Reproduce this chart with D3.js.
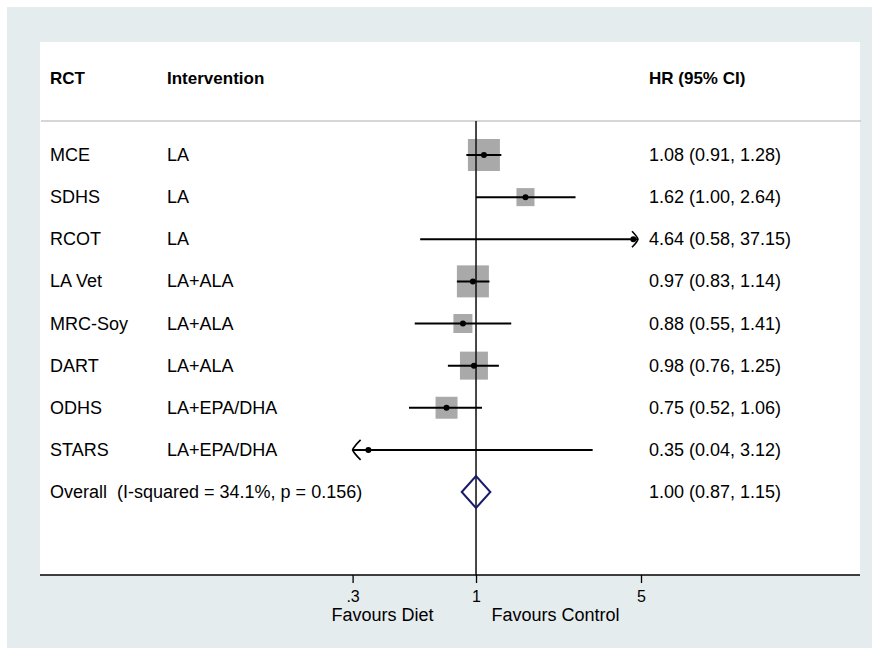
<!DOCTYPE html>
<html>
<head>
<meta charset="utf-8">
<script src="https://cdn.jsdelivr.net/npm/d3@7"></script>
<style>
  body { margin: 0; background: #fff; }
  svg text { font-family: "Liberation Sans", Arial, Helvetica, sans-serif; fill: #000; white-space: pre; }
</style>
</head>
<body>
<svg id="chart" width="872" height="648"></svg>
<script>
// trial data
const trials = ['MCE', 'SDHS', 'RCOT', 'LA Vet', 'MRC-Soy', 'DART', 'ODHS', 'STARS'];
const interventions = ['LA', 'LA', 'LA', 'LA+ALA', 'LA+ALA', 'LA+ALA', 'LA+EPA/DHA', 'LA+EPA/DHA'];
const hr = [1.08, 1.62, 4.64, 0.97, 0.88, 0.98, 0.75, 0.35];
const lower = [0.91, 1.00, 0.58, 0.83, 0.55, 0.76, 0.52, 0.04];
const upper = [1.28, 2.64, 37.15, 1.14, 1.41, 1.25, 1.06, 3.12];
const weights = [25.5, 8.1, 0.3, 25.5, 9.0, 19.5, 12.0, 0.3]; // % weight

const overall = { label: 'Overall  (I-squared = 34.1%, p = 0.156)', hr: 1.00, lower: 0.87, upper: 1.15 };

const tickValues = [0.3, 1, 5];
const tickLabels = ['.3', '1', '5'];

const W = 872, H = 648;
const plot = { left: 40, right: 860, top: 42, bottom: 575 };
const sepY = 121;
const colRCT = 50, colInt = 167, colHR = 649;

const svg = d3.select('#chart');

// background
svg.append('rect').attr('x', 7).attr('y', 7).attr('width', W - 7).attr('height', H - 7)
  .attr('fill', '#e4ecee');
svg.append('rect').attr('x', plot.left).attr('y', plot.top)
  .attr('width', plot.right - plot.left).attr('height', plot.bottom - plot.top)
  .attr('fill', '#fff');

// scales
const x = d3.scaleLog().domain([0.3, 5]).range([352.6, 641]);
const y = d3.scaleLinear().domain([0, 8]).range([155, 492]);
const side = d3.scaleSqrt().domain([0, 25.5]).range([0, 32]);

const rows = trials.map((t, i) => ({
  trial: t, intv: interventions[i], hr: hr[i], lo: lower[i], hi: upper[i], w: weights[i], i
}));

const fmt = d3.format('.2f');

// header
const header = svg.append('g').attr('font-weight', 'bold').attr('font-size', 17);
header.append('text').attr('x', colRCT).attr('y', 84).text('RCT');
header.append('text').attr('x', colInt).attr('y', 84).text('Intervention');
header.append('text').attr('x', colHR).attr('y', 84).text('HR (95% CI)');

// separator under header
svg.append('line').attr('x1', plot.left + 1).attr('x2', plot.right + 1)
  .attr('y1', sepY).attr('y2', sepY)
  .attr('stroke', '#c8c8c8').attr('stroke-width', 1.5);

// weight boxes
svg.append('g').selectAll('rect').data(rows).join('rect')
  .attr('x', d => x(d.hr) - side(d.w) / 2)
  .attr('y', d => y(d.i) - side(d.w) / 2)
  .attr('width', d => side(d.w))
  .attr('height', d => side(d.w))
  .attr('fill', '#a9a9a9');

// null line at 1
svg.append('line').attr('x1', x(1)).attr('x2', x(1))
  .attr('y1', sepY).attr('y2', plot.bottom)
  .attr('stroke', '#1a1a1a').attr('stroke-width', 1.6);

// CI lines (clipped to axis range)
const [dmin, dmax] = x.domain();
const ci = svg.append('g');
ci.selectAll('line').data(rows).join('line')
  .attr('x1', d => x(Math.max(d.lo, dmin)))
  .attr('x2', d => x(Math.min(d.hi, dmax)) - (d.hi > dmax ? 3 : 0))
  .attr('y1', d => y(d.i)).attr('y2', d => y(d.i))
  .attr('stroke', '#000').attr('stroke-width', 2);

// arrows where CI runs off the scale
rows.filter(d => d.hi > dmax).forEach(d => {
  const tx = x(dmax) - 3, ty = y(d.i);
  ci.append('path')
    .attr('d', `M${tx - 6},${ty - 8} Q${tx - 1},${ty - 3} ${tx},${ty} Q${tx - 1},${ty + 3} ${tx - 6},${ty + 8}`)
    .attr('fill', 'none').attr('stroke', '#000').attr('stroke-width', 1.6);
});
rows.filter(d => d.lo < dmin).forEach(d => {
  const tx = x(dmin), ty = y(d.i);
  ci.append('path')
    .attr('d', `M${tx + 8},${ty - 10} Q${tx + 1},${ty - 3} ${tx},${ty} Q${tx + 1},${ty + 3} ${tx + 8},${ty + 10}`)
    .attr('fill', 'none').attr('stroke', '#000').attr('stroke-width', 1.6);
});

// point estimates
svg.append('g').selectAll('circle').data(rows).join('circle')
  .attr('cx', d => x(d.hr)).attr('cy', d => y(d.i)).attr('r', 3)
  .attr('fill', '#000');

// overall diamond
const oy = y(8);
svg.append('path')
  .attr('d', `M${x(overall.lower)},${oy} L${x(overall.hr)},${oy - 16} L${x(overall.upper)},${oy} L${x(overall.hr)},${oy + 16} Z`)
  .attr('fill', 'none').attr('stroke', '#1b1b6b').attr('stroke-width', 2);

// row text
const txt = svg.append('g').attr('font-size', 18);
rows.forEach(d => {
  txt.append('text').attr('x', colRCT).attr('y', y(d.i) + 6).text(d.trial);
  txt.append('text').attr('x', colInt).attr('y', y(d.i) + 6).text(d.intv);
  txt.append('text').attr('x', colHR).attr('y', y(d.i) + 6)
    .text(`${fmt(d.hr)} (${fmt(d.lo)}, ${fmt(d.hi)})`);
});
txt.append('text').attr('x', colRCT).attr('y', oy + 6).text(overall.label);
txt.append('text').attr('x', colHR).attr('y', oy + 6)
  .text(`${fmt(overall.hr)} (${fmt(overall.lower)}, ${fmt(overall.upper)})`);

// x axis
svg.append('line').attr('x1', plot.left).attr('x2', plot.right)
  .attr('y1', plot.bottom).attr('y2', plot.bottom)
  .attr('stroke', '#000').attr('stroke-width', 1.6);

const xAxis = d3.axisBottom(x)
  .tickValues(tickValues)
  .tickFormat((d, i) => tickLabels[i])
  .tickSize(8).tickSizeOuter(0).tickPadding(8);

const ax = svg.append('g').attr('transform', `translate(0,${plot.bottom})`).call(xAxis);
ax.select('.domain').remove();
ax.selectAll('.tick line').attr('stroke', '#000').attr('stroke-width', 1.3);
ax.selectAll('.tick text').attr('font-size', 16)
  .attr('font-family', '"Liberation Sans", Arial, sans-serif').attr('fill', '#000');

svg.append('text').attr('x', 382.5).attr('y', 621).attr('text-anchor', 'middle')
  .attr('font-size', 18).text('Favours Diet');
svg.append('text').attr('x', 555.5).attr('y', 621).attr('text-anchor', 'middle')
  .attr('font-size', 18).text('Favours Control');
</script>
</body>
</html>
